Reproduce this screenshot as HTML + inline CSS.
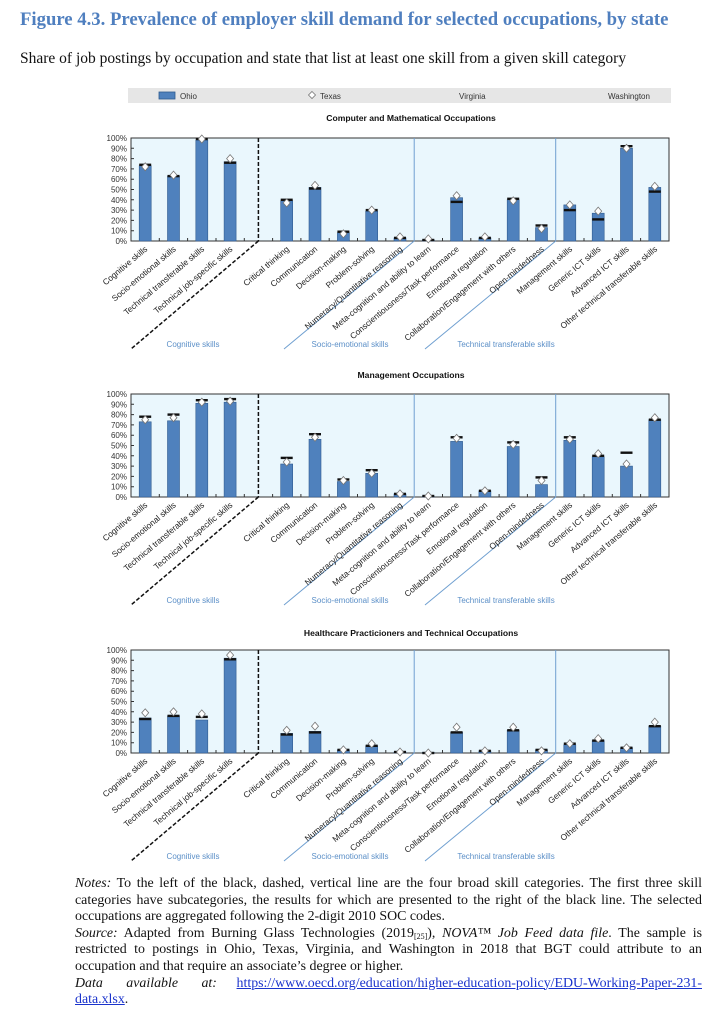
<!DOCTYPE html>
<html><head><meta charset="utf-8">
<style>
body{margin:0;background:#fff;width:718px;height:1023px;position:relative;overflow:hidden;font-family:"Liberation Serif",serif;}
.t{position:absolute;left:20px;top:9px;font-weight:bold;font-size:18.7px;color:#4f7fbf;white-space:nowrap;}
.s{position:absolute;left:20px;top:50px;font-size:15.5px;color:#111;white-space:nowrap;}
.n{position:absolute;left:75px;top:876px;width:627px;font-size:13.9px;line-height:16.6px;color:#111;text-align:justify;}
.n a{color:#1a33cc;text-decoration:underline;}
.n sub{font-size:8px;line-height:0;vertical-align:-2px;}
svg{position:absolute;left:0;top:0;}
svg text{font-family:"Liberation Sans",sans-serif;}
</style></head><body>
<div class="t">Figure 4.3. Prevalence of employer skill demand for selected occupations, by state</div>
<div class="s">Share of job postings by occupation and state that list at least one skill from a given skill category</div>
<svg width="718" height="870" viewBox="0 0 718 870">
<defs>
<g id="frame">
<rect x="131" y="-103" width="538" height="103" fill="#eaf7fd" stroke="#333" stroke-width="1"/>
<line x1="414.2" y1="-103" x2="414.2" y2="0" stroke="#6f9fd0" stroke-width="1"/>
<line x1="555.7" y1="-103" x2="555.7" y2="0" stroke="#6f9fd0" stroke-width="1"/>
<line x1="258.4" y1="-103" x2="258.4" y2="0" stroke="#111" stroke-width="1.5" stroke-dasharray="4,2"/>
<line x1="414.2" y1="0" x2="284" y2="108" stroke="#6f9fd0" stroke-width="1"/>
<line x1="555.7" y1="0" x2="425" y2="108" stroke="#6f9fd0" stroke-width="1"/>
<line x1="258.4" y1="0" x2="131" y2="108" stroke="#111" stroke-width="1.5" stroke-dasharray="4,2"/>
<g stroke="#333" stroke-width="1">
<path d="M131,-103h3M131,-92.7h3M131,-82.4h3M131,-72.1h3M131,-61.8h3M131,-51.5h3M131,-41.2h3M131,-30.9h3M131,-20.6h3M131,-10.3h3"/>
<path d="M159.3,0v-3M187.6,0v-3M216,0v-3M244.3,0v-3M272.6,0v-3M300.9,0v-3M329.2,0v-3M357.5,0v-3M385.8,0v-3M442.5,0v-3M470.8,0v-3M499.1,0v-3M527.4,0v-3M584,0v-3M612.3,0v-3M640.6,0v-3"/>
</g>
<g font-size="8" fill="#333" text-anchor="end">
<text x="127" y="-100">100%</text><text x="127" y="-89.7">90%</text><text x="127" y="-79.4">80%</text><text x="127" y="-69.1">70%</text><text x="127" y="-58.8">60%</text><text x="127" y="-48.5">50%</text><text x="127" y="-38.2">40%</text><text x="127" y="-27.9">30%</text><text x="127" y="-17.6">20%</text><text x="127" y="-7.3">10%</text><text x="127" y="3">0%</text>
</g>
<g font-size="8.4" fill="#222" text-anchor="end">
<text transform="translate(148,9) rotate(-40)">Cognitive skills</text>
<text transform="translate(176.5,9) rotate(-40)">Socio-emotional skills</text>
<text transform="translate(204.8,9) rotate(-40)">Technical transferable skills</text>
<text transform="translate(233.1,9) rotate(-40)">Technical job-specific skills</text>
<text transform="translate(289.7,9) rotate(-40)">Critical thinking</text>
<text transform="translate(318,9) rotate(-40)">Communication</text>
<text transform="translate(346.4,9) rotate(-40)">Decision-making</text>
<text transform="translate(374.7,9) rotate(-40)">Problem-solving</text>
<text transform="translate(403,9) rotate(-40)">Numeracy/Quantitative reasoning</text>
<text transform="translate(431.3,9) rotate(-40)">Meta-cognition and ability to learn</text>
<text transform="translate(459.6,9) rotate(-40)">Conscientiousness/Task performance</text>
<text transform="translate(487.9,9) rotate(-40)">Emotional regulation</text>
<text transform="translate(516.2,9) rotate(-40)">Collaboration/Engagement with others</text>
<text transform="translate(544.5,9) rotate(-40)">Open-mindedness</text>
<text transform="translate(572.8,9) rotate(-40)">Management skills</text>
<text transform="translate(601.2,9) rotate(-40)">Generic ICT skills</text>
<text transform="translate(629.5,9) rotate(-40)">Advanced ICT skills</text>
<text transform="translate(657.8,9) rotate(-40)">Other technical transferable skills</text>
</g>
<g font-size="8" fill="#5b8fc7" text-anchor="middle">
<text x="193" y="106">Cognitive skills</text>
<text x="350" y="106">Socio-emotional skills</text>
<text x="506" y="106">Technical transferable skills</text>
</g>
</g>
</defs>

<!-- legend -->
<rect x="128" y="88" width="543" height="15" fill="#e6e6e6"/>
<rect x="159" y="92" width="16" height="7" fill="#4f81bd" stroke="#2f5b8f" stroke-width="0.8"/>
<text x="180" y="99" font-size="8" fill="#333">Ohio</text>
<path d="M312,91.5l3.5,3.5-3.5,3.5-3.5,-3.5z" fill="#fff" stroke="#777" stroke-width="0.8"/>
<text x="320" y="99" font-size="8" fill="#333">Texas</text>
<text x="459" y="99" font-size="8" fill="#333">Virginia</text>
<text x="608" y="99" font-size="8" fill="#333">Washington</text>

<!-- chart 1 -->
<text x="411" y="121" font-size="8.6" font-weight="bold" text-anchor="middle" fill="#111">Computer and Mathematical Occupations</text>
<g transform="translate(0,241)">
<use href="#frame"/>
<g fill="#4f81bd" stroke="#2f5b8f" stroke-width="0.6">
<rect x="139.2" y="-75.2" width="12" height="75.2"/><rect x="167.5" y="-64.9" width="12" height="64.9"/><rect x="195.8" y="-100.9" width="12" height="100.9"/><rect x="224.1" y="-79.3" width="12" height="79.3"/>
<rect x="280.7" y="-40.2" width="12" height="40.2"/><rect x="309" y="-53.6" width="12" height="53.6"/><rect x="337.4" y="-8.2" width="12" height="8.2"/><rect x="365.7" y="-29.9" width="12" height="29.9"/><rect x="394" y="-3.1" width="12" height="3.1"/>
<rect x="422.3" y="-1" width="12" height="1"/><rect x="450.6" y="-43.3" width="12" height="43.3"/><rect x="478.9" y="-3.1" width="12" height="3.1"/><rect x="507.2" y="-41.2" width="12" height="41.2"/><rect x="535.5" y="-13.4" width="12" height="13.4"/>
<rect x="563.8" y="-36.1" width="12" height="36.1"/><rect x="592.2" y="-27.8" width="12" height="27.8"/><rect x="620.5" y="-92.7" width="12" height="92.7"/><rect x="648.8" y="-53.6" width="12" height="53.6"/>
</g>
<g fill="#111">
<rect x="139.2" y="-77.4" width="12" height="2.4"/><rect x="167.5" y="-66.1" width="12" height="2.4"/><rect x="195.8" y="-103.2" width="12" height="2.4"/><rect x="224.1" y="-79.5" width="12" height="2.4"/>
<rect x="280.7" y="-42.4" width="12" height="2.4"/><rect x="309" y="-53.7" width="12" height="2.4"/><rect x="337.4" y="-10.5" width="12" height="2.4"/><rect x="365.7" y="-32.1" width="12" height="2.4"/><rect x="394" y="-4.3" width="12" height="2.4"/>
<rect x="422.3" y="-2.2" width="12" height="2.4"/><rect x="450.6" y="-40.3" width="12" height="2.4"/><rect x="478.9" y="-4.3" width="12" height="2.4"/><rect x="507.2" y="-43.4" width="12" height="2.4"/><rect x="535.5" y="-16.7" width="12" height="2.4"/>
<rect x="563.8" y="-32.1" width="12" height="2.4"/><rect x="592.2" y="-22.8" width="12" height="2.4"/><rect x="620.5" y="-96" width="12" height="2.4"/><rect x="648.8" y="-50.6" width="12" height="2.4"/>
</g>
<g fill="#fff" stroke="#777" stroke-width="0.8">
<path d="M145.2,-78.2l3.5,4-3.5,4-3.5-4z"/><path d="M173.5,-69.9l3.5,4-3.5,4-3.5-4z"/><path d="M201.8,-106l3.5,4-3.5,4-3.5-4z"/><path d="M230.1,-86.4l3.5,4-3.5,4-3.5-4z"/>
<path d="M286.7,-42.1l3.5,4-3.5,4-3.5-4z"/><path d="M315,-59.6l3.5,4-3.5,4-3.5-4z"/><path d="M343.4,-11.2l3.5,4-3.5,4-3.5-4z"/><path d="M371.7,-34.9l3.5,4-3.5,4-3.5-4z"/><path d="M400,-8.1l3.5,4-3.5,4-3.5-4z"/>
<path d="M428.3,-6.1l3.5,4-3.5,4-3.5-4z"/><path d="M456.6,-49.3l3.5,4-3.5,4-3.5-4z"/><path d="M484.9,-8.1l3.5,4-3.5,4-3.5-4z"/><path d="M513.2,-44.2l3.5,4-3.5,4-3.5-4z"/><path d="M541.5,-16.4l3.5,4-3.5,4-3.5-4z"/>
<path d="M569.8,-40.1l3.5,4-3.5,4-3.5-4z"/><path d="M598.2,-33.9l3.5,4-3.5,4-3.5-4z"/><path d="M626.5,-96.7l3.5,4-3.5,4-3.5-4z"/><path d="M654.8,-58.6l3.5,4-3.5,4-3.5-4z"/>
</g>
</g>

<!-- chart 2 -->
<text x="411" y="378" font-size="8.6" font-weight="bold" text-anchor="middle" fill="#111">Management Occupations</text>
<g transform="translate(0,497)">
<use href="#frame"/>
<g fill="#4f81bd" stroke="#2f5b8f" stroke-width="0.6">
<rect x="139.2" y="-75.2" width="12" height="75.2"/><rect x="167.5" y="-76.2" width="12" height="76.2"/><rect x="195.8" y="-93.7" width="12" height="93.7"/><rect x="224.1" y="-94.8" width="12" height="94.8"/>
<rect x="280.7" y="-33" width="12" height="33"/><rect x="309" y="-57.7" width="12" height="57.7"/><rect x="337.4" y="-15.5" width="12" height="15.5"/><rect x="365.7" y="-23.7" width="12" height="23.7"/><rect x="394" y="-3.1" width="12" height="3.1"/>
<rect x="422.3" y="-0.5" width="12" height="0.5"/><rect x="450.6" y="-55.6" width="12" height="55.6"/><rect x="478.9" y="-6.2" width="12" height="6.2"/><rect x="507.2" y="-50.5" width="12" height="50.5"/><rect x="535.5" y="-12.4" width="12" height="12.4"/>
<rect x="563.8" y="-56.7" width="12" height="56.7"/><rect x="592.2" y="-40.2" width="12" height="40.2"/><rect x="620.5" y="-30.9" width="12" height="30.9"/><rect x="648.8" y="-77.3" width="12" height="77.3"/>
</g>
<g fill="#111">
<rect x="139.2" y="-81.5" width="12" height="2.4"/><rect x="167.5" y="-83.6" width="12" height="2.4"/><rect x="195.8" y="-98" width="12" height="2.4"/><rect x="224.1" y="-99.1" width="12" height="2.4"/>
<rect x="280.7" y="-40.3" width="12" height="2.4"/><rect x="309" y="-64" width="12" height="2.4"/><rect x="337.4" y="-18.7" width="12" height="2.4"/><rect x="365.7" y="-28" width="12" height="2.4"/><rect x="394" y="-4.3" width="12" height="2.4"/>
<rect x="422.3" y="-2.2" width="12" height="2.4"/><rect x="450.6" y="-60.9" width="12" height="2.4"/><rect x="478.9" y="-7.4" width="12" height="2.4"/><rect x="507.2" y="-55.8" width="12" height="2.4"/><rect x="535.5" y="-20.8" width="12" height="2.4"/>
<rect x="563.8" y="-60.9" width="12" height="2.4"/><rect x="592.2" y="-42.4" width="12" height="2.4"/><rect x="620.5" y="-45.5" width="12" height="2.4"/><rect x="648.8" y="-78.5" width="12" height="2.4"/>
</g>
<g fill="#fff" stroke="#777" stroke-width="0.8">
<path d="M145.2,-81.3l3.5,4-3.5,4-3.5-4z"/><path d="M173.5,-83.3l3.5,4-3.5,4-3.5-4z"/><path d="M201.8,-98.8l3.5,4-3.5,4-3.5-4z"/><path d="M230.1,-99.8l3.5,4-3.5,4-3.5-4z"/>
<path d="M286.7,-39l3.5,4-3.5,4-3.5-4z"/><path d="M315,-63.7l3.5,4-3.5,4-3.5-4z"/><path d="M343.4,-20.5l3.5,4-3.5,4-3.5-4z"/><path d="M371.7,-27.7l3.5,4-3.5,4-3.5-4z"/><path d="M400,-7.1l3.5,4-3.5,4-3.5-4z"/>
<path d="M428.3,-5l3.5,4-3.5,4-3.5-4z"/><path d="M456.6,-62.7l3.5,4-3.5,4-3.5-4z"/><path d="M484.9,-10.2l3.5,4-3.5,4-3.5-4z"/><path d="M513.2,-56.5l3.5,4-3.5,4-3.5-4z"/><path d="M541.5,-20.5l3.5,4-3.5,4-3.5-4z"/>
<path d="M569.8,-61.7l3.5,4-3.5,4-3.5-4z"/><path d="M598.2,-47.3l3.5,4-3.5,4-3.5-4z"/><path d="M626.5,-37l3.5,4-3.5,4-3.5-4z"/><path d="M654.8,-83.3l3.5,4-3.5,4-3.5-4z"/>
</g>
</g>

<!-- chart 3 -->
<text x="411" y="636" font-size="8.6" font-weight="bold" text-anchor="middle" fill="#111">Healthcare Practicioners and Technical Occupations</text>
<g transform="translate(0,753)">
<use href="#frame"/>
<g fill="#4f81bd" stroke="#2f5b8f" stroke-width="0.6">
<rect x="139.2" y="-35" width="12" height="35"/><rect x="167.5" y="-37.1" width="12" height="37.1"/><rect x="195.8" y="-33" width="12" height="33"/><rect x="224.1" y="-94.8" width="12" height="94.8"/>
<rect x="280.7" y="-19.6" width="12" height="19.6"/><rect x="309" y="-21.6" width="12" height="21.6"/><rect x="337.4" y="-3.1" width="12" height="3.1"/><rect x="365.7" y="-7.2" width="12" height="7.2"/><rect x="394" y="-1" width="12" height="1"/>
<rect x="422.3" y="-0.5" width="12" height="0.5"/><rect x="450.6" y="-20.6" width="12" height="20.6"/><rect x="478.9" y="-2.1" width="12" height="2.1"/><rect x="507.2" y="-22.7" width="12" height="22.7"/><rect x="535.5" y="-3.1" width="12" height="3.1"/>
<rect x="563.8" y="-8.2" width="12" height="8.2"/><rect x="592.2" y="-12.4" width="12" height="12.4"/><rect x="620.5" y="-5.2" width="12" height="5.2"/><rect x="648.8" y="-26.8" width="12" height="26.8"/>
</g>
<g fill="#111">
<rect x="139.2" y="-35.2" width="12" height="2.4"/><rect x="167.5" y="-38.3" width="12" height="2.4"/><rect x="195.8" y="-37.3" width="12" height="2.4"/><rect x="224.1" y="-94.9" width="12" height="2.4"/>
<rect x="280.7" y="-19.7" width="12" height="2.4"/><rect x="309" y="-21.8" width="12" height="2.4"/><rect x="337.4" y="-4.3" width="12" height="2.4"/><rect x="365.7" y="-8.4" width="12" height="2.4"/><rect x="394" y="-2.2" width="12" height="2.4"/>
<rect x="422.3" y="-1.2" width="12" height="2.4"/><rect x="450.6" y="-21.8" width="12" height="2.4"/><rect x="478.9" y="-3.3" width="12" height="2.4"/><rect x="507.2" y="-23.9" width="12" height="2.4"/><rect x="535.5" y="-4.3" width="12" height="2.4"/>
<rect x="563.8" y="-10.5" width="12" height="2.4"/><rect x="592.2" y="-13.6" width="12" height="2.4"/><rect x="620.5" y="-6.4" width="12" height="2.4"/><rect x="648.8" y="-28" width="12" height="2.4"/>
</g>
<g fill="#fff" stroke="#777" stroke-width="0.8">
<path d="M145.2,-44.2l3.5,4-3.5,4-3.5-4z"/><path d="M173.5,-45.2l3.5,4-3.5,4-3.5-4z"/><path d="M201.8,-43.1l3.5,4-3.5,4-3.5-4z"/><path d="M230.1,-101.9l3.5,4-3.5,4-3.5-4z"/>
<path d="M286.7,-26.7l3.5,4-3.5,4-3.5-4z"/><path d="M315,-30.8l3.5,4-3.5,4-3.5-4z"/><path d="M343.4,-7.1l3.5,4-3.5,4-3.5-4z"/><path d="M371.7,-13.3l3.5,4-3.5,4-3.5-4z"/><path d="M400,-5l3.5,4-3.5,4-3.5-4z"/>
<path d="M428.3,-4l3.5,4-3.5,4-3.5-4z"/><path d="M456.6,-29.8l3.5,4-3.5,4-3.5-4z"/><path d="M484.9,-6.1l3.5,4-3.5,4-3.5-4z"/><path d="M513.2,-29.8l3.5,4-3.5,4-3.5-4z"/><path d="M541.5,-6.1l3.5,4-3.5,4-3.5-4z"/>
<path d="M569.8,-13.3l3.5,4-3.5,4-3.5-4z"/><path d="M598.2,-18.4l3.5,4-3.5,4-3.5-4z"/><path d="M626.5,-9.2l3.5,4-3.5,4-3.5-4z"/><path d="M654.8,-34.9l3.5,4-3.5,4-3.5-4z"/>
</g>
</g>
</svg>
<div class="n"><i>Notes:</i> To the left of the black, dashed, vertical line are the four broad skill categories. The first three skill categories have subcategories, the results for which are presented to the right of the black line. The selected occupations are aggregated following the 2-digit 2010 SOC codes.<br><i>Source:</i> Adapted from Burning Glass Technologies (2019<sub>[25]</sub>), <i>NOVA™ Job Feed data file</i>. The sample is restricted to postings in Ohio, Texas, Virginia, and Washington in 2018 that BGT could attribute to an occupation and that require an associate’s degree or higher.<br><i>Data &nbsp;&nbsp;&nbsp;&nbsp; available &nbsp;&nbsp;&nbsp;&nbsp; at:</i> &nbsp;&nbsp;&nbsp; <a>https://www.oecd.org/education/higher-education-policy/EDU-Working-Paper-231-data.xlsx</a>.</div>
</body></html>
